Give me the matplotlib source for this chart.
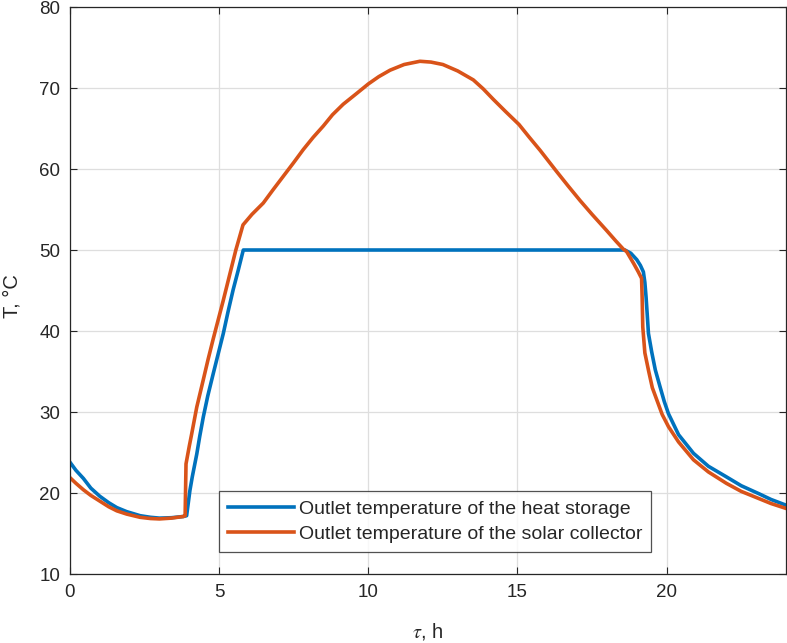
# python3
import matplotlib
matplotlib.use("Agg")
import matplotlib.pyplot as plt

# time, h / outlet temperature of the heat storage, C
storage_t = [0.0, 0.2, 0.45, 0.7, 1.0, 1.3, 1.57, 1.9, 2.35, 2.7, 3.0, 3.4, 3.8,
             3.91, 4.02, 4.1, 4.25, 4.35, 4.47, 4.62, 4.80, 4.97, 5.14, 5.3, 5.47,
             5.64, 5.81, 18.6, 18.8, 19.0, 19.12, 19.22, 19.27, 19.31, 19.35,
             19.39, 19.5, 19.62, 19.78, 19.92, 20.06, 20.4, 20.9, 21.4, 22.0,
             22.5, 23.1, 23.5, 24.0]
storage_T = [23.8, 22.8, 21.8, 20.6, 19.6, 18.8, 18.2, 17.7, 17.2, 17.0, 16.9, 16.95, 17.1,
             17.2, 20.3, 22.0, 24.8, 27.0, 29.4, 32.0, 34.7, 37.2, 39.7, 42.4, 45.1,
             47.5, 50.0, 50.0, 49.6, 48.8, 48.1, 47.3, 46.0, 44.2, 42.0,
             39.7, 37.4, 35.2, 33.1, 31.3, 29.8, 27.2, 24.9, 23.3, 22.0,
             20.9, 19.9, 19.2, 18.5]

# time, h / outlet temperature of the solar collector, C
collector_t = [0.0, 0.2, 0.45, 0.7, 1.0, 1.3, 1.57, 1.9, 2.35, 2.7, 3.0, 3.4, 3.8,
               3.86, 3.89, 4.0, 4.08, 4.25, 4.47, 4.63, 4.80, 5.14, 5.56, 5.80,
               6.1, 6.48, 6.8, 7.15, 7.5, 7.82, 8.15, 8.49, 8.8, 9.16, 9.6, 10.0,
               10.35, 10.73, 11.2, 11.73, 12.1, 12.5, 13.0, 13.52, 13.85, 14.19,
               14.6, 15.05, 15.4, 15.76, 16.31, 16.7, 17.1, 17.5, 17.99, 18.3,
               18.55, 18.66, 18.9, 19.05, 19.16, 19.18, 19.2, 19.27, 19.4, 19.52,
               19.67, 19.85, 20.06, 20.4, 20.9, 21.4, 22.0, 22.5, 23.1, 23.5, 24.0]
collector_T = [21.9, 21.2, 20.4, 19.7, 19.0, 18.3, 17.8, 17.4, 17.0, 16.85, 16.8, 16.9, 17.1,
               17.2, 23.6, 25.8, 27.3, 30.6, 34.0, 36.5, 39.0, 43.8, 50.0, 53.1,
               54.4, 55.8, 57.4, 59.1, 60.8, 62.4, 63.9, 65.3, 66.7, 68.0, 69.3, 70.5,
               71.4, 72.2, 72.9, 73.3, 73.2, 72.9, 72.1, 71.0, 69.9, 68.6,
               67.1, 65.5, 63.9, 62.3, 59.7, 57.9, 56.1, 54.4, 52.4, 51.1,
               50.1, 49.8, 48.3, 47.3, 46.5, 44.0, 40.5, 37.3, 35.0, 33.0,
               31.5, 29.7, 28.2, 26.3, 24.1, 22.6, 21.2, 20.2, 19.3, 18.7, 18.1]

xticks = [0, 5, 10, 15, 20]
yticks = [10, 20, 30, 40, 50, 60, 70, 80]

plt.rcParams['font.family'] = ['Liberation Sans', 'DejaVu Sans']
plt.rcParams['mathtext.fontset'] = 'stix'
txt = '#262626'

fig = plt.figure(figsize=(7.87, 6.43), dpi=100)
ax = fig.add_axes([0.0889, 0.1073, 0.9098, 0.8818])

ax.plot(storage_t, storage_T, color='#0072BD', lw=2.6,
        label='Outlet temperature of the heat storage')
ax.plot(collector_t, collector_T, color='#D95319', lw=2.6,
        label='Outlet temperature of the solar collector')

ax.set_xlim(0, 24)
ax.set_ylim(10, 80)
ax.set_xticks(xticks)
ax.set_yticks(yticks)
ax.grid(True, color='#dedede', lw=0.9)
ax.set_axisbelow(True)
ax.tick_params(direction='in', length=5, width=0.8, top=True, right=True,
               labelsize=13.5, colors=txt, pad=7)
for s in ax.spines.values():
    s.set_color(txt)
    s.set_linewidth(0.9)

ax.set_xlabel(r'$\tau$, h', fontsize=14.5, color=txt)
ax.set_ylabel('T, °C', fontsize=14.5, color=txt)
ax.xaxis.set_label_coords(0.5, -0.083)
ax.yaxis.set_label_coords(-0.068, 0.49)

leg = ax.legend(loc='lower left', bbox_to_anchor=(0.208, 0.039), borderaxespad=0,
                fontsize=14, frameon=True, fancybox=False, handlelength=3.4,
                handletextpad=0.25, borderpad=0.45, labelspacing=0.4)
leg.get_frame().set_edgecolor(txt)
leg.get_frame().set_linewidth(0.9)
for t in leg.get_texts():
    t.set_color(txt)

fig.savefig('out.png', dpi=100)
